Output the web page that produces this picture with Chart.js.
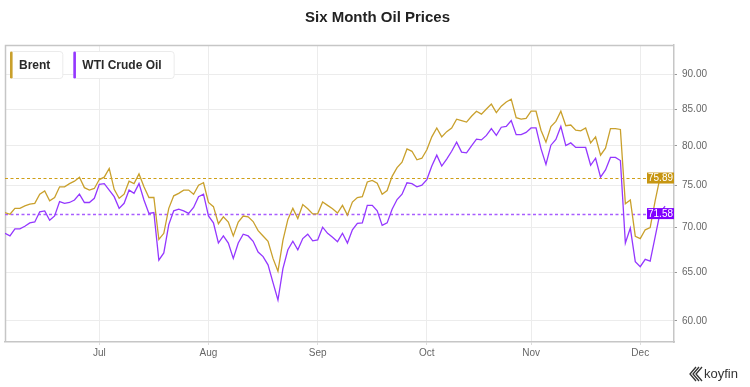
<!DOCTYPE html>
<html><head><meta charset="utf-8">
<script src="https://cdn.jsdelivr.net/npm/chart.js@4.4.0/dist/chart.umd.min.js"></script>
<style>html,body{margin:0;padding:0;background:#fff}canvas{display:block}</style>
</head><body>
<canvas id="c" width="750" height="387"></canvas>
<script>
// ---------------- data ----------------
const chartTitle = 'Six Month Oil Prices';
const seriesNames = ['Brent', 'WTI Crude Oil'];
const startDate = '2021-06-04';            // first weekday shown
const monthLabels = ['Jul', 'Aug', 'Sep', 'Oct', 'Nov', 'Dec'];
const yTickValues = [60, 65, 70, 75, 80, 85, 90];
const lastValueLabels = [75.89, 71.58];   // Brent, WTI

const brent = [71.7,71.5,72.2,72.2,72.5,72.7,72.8,73.9,74.3,73.1,
  73.5,74.8,74.8,75.2,75.5,76.0,74.7,74.4,74.6,75.7,
  76.0,77.1,74.5,73.4,73.9,75.5,75.2,76.4,74.8,73.5,
  73.5,68.6,69.3,72.2,73.7,74.0,74.4,74.4,73.9,75.0,
  75.3,72.9,72.4,70.4,71.2,70.6,69.0,70.6,71.3,71.2,
  70.65,69.6,69.0,68.4,66.5,65.1,68.5,70.9,72.2,71.0,
  72.65,72.15,71.55,71.55,72.95,72.55,72.15,71.65,72.55,71.4,
  72.95,73.5,73.6,75.4,75.6,75.25,73.9,74.35,76.1,77.2,
  77.9,79.6,79.3,78.2,78.4,79.5,81.2,82.4,81.2,81.9,
  82.4,83.6,83.4,83.2,84.0,84.7,84.3,85.0,85.7,84.5,
  85.4,86.0,86.4,83.8,83.6,83.7,84.7,84.7,82.1,80.5,
  82.6,83.3,84.7,82.7,82.8,82.1,82.0,82.4,80.4,81.2,
  78.8,79.7,82.3,82.3,82.2,72.75,73.2,68.95,68.7,69.7,
  69.95,73.1,76.0];

const wti = [69.3,69.0,69.8,69.8,70.1,70.5,70.6,71.8,71.9,70.8,
  71.3,73.0,72.8,72.9,73.2,73.9,72.9,72.9,73.4,75.1,
  75.2,74.4,73.6,72.2,72.8,74.4,74.0,75.2,73.2,71.6,
  71.7,66.3,67.1,70.3,71.9,72.1,71.9,71.6,72.3,73.6,
  73.9,71.3,70.5,68.2,69.0,68.2,66.5,68.2,69.2,69.0,
  68.4,67.2,66.7,65.8,63.9,62.1,65.4,67.45,68.4,67.45,
  68.7,69.2,68.45,68.55,70.0,69.3,68.85,68.35,69.3,68.2,
  69.7,70.45,70.5,72.55,72.55,71.9,70.2,70.5,72.1,73.25,
  73.9,75.3,75.2,74.8,75.0,75.7,77.4,78.8,77.4,78.3,
  79.3,80.5,79.2,79.1,80.0,80.9,80.8,81.4,82.3,81.4,
  82.5,82.6,83.4,81.5,81.5,81.8,82.4,82.4,79.65,77.6,
  80.1,80.85,82.6,80.05,80.4,79.8,79.8,79.8,77.5,78.4,
  76.0,76.9,78.5,78.5,78.1,68.2,69.9,66.15,65.6,66.4,
  66.2,68.9,71.7,72.45];

// ---------------- derived categories ----------------
const monthShort = ['Jan','Feb','Mar','Apr','May','Jun','Jul','Aug','Sep','Oct','Nov','Dec'];
const dates = [];
(function () {
  const d = new Date(startDate + 'T00:00:00Z');
  while (dates.length < wti.length) {
    const wd = d.getUTCDay();
    if (wd !== 0 && wd !== 6) dates.push(new Date(d));
    d.setUTCDate(d.getUTCDate() + 1);
  }
})();
const monthTickIdx = monthLabels.map(m => dates.findIndex(d => monthShort[d.getUTCMonth()] === m));

// ---------------- styles ----------------
const FONT = "'Liberation Sans', Arial, sans-serif";
const colBrent = '#c9a02c', colWti = '#9437ff';
const colBrentTag = '#c79612', colWtiTag = '#8000ff';
const colBrentDot = '#cf9f17', colWtiDot = '#a85eff';
const gridCol = '#ececec', frameCol = '#c6c6c6', tickTextCol = '#666';

const deco = {
  id: 'deco',
  beforeDatasetsDraw(chart) {
    const { ctx, chartArea: a, scales: { y } } = chart;
    ctx.save();
    // left and top frame
    ctx.strokeStyle = frameCol; ctx.lineWidth = 1.5;
    ctx.beginPath();
    ctx.moveTo(a.left + 0.5, a.bottom); ctx.lineTo(a.left + 0.5, a.top + 0.5); ctx.lineTo(a.right, a.top + 0.5);
    ctx.stroke();
    // dotted last-value lines
    const dots = [[colBrentDot, 1, [3, 2.5]], [colWtiDot, 1.6, [3, 2.5]]];
    lastValueLabels.forEach((v, k) => {
      const py = Math.round(y.getPixelForValue(v)) + 0.5;
      ctx.strokeStyle = dots[k][0]; ctx.lineWidth = dots[k][1]; ctx.setLineDash(dots[k][2]);
      ctx.beginPath(); ctx.moveTo(a.left, py); ctx.lineTo(a.right - 27, py); ctx.stroke();
    });
    ctx.restore();
  },
  afterDatasetsDraw(chart) {
    const { ctx, chartArea: a, scales: { y } } = chart;
    ctx.save();
    const tags = [colBrentTag, colWtiTag];
    lastValueLabels.forEach((v, k) => {
      const py = y.getPixelForValue(v);
      ctx.fillStyle = tags[k];
      ctx.fillRect(a.right - 27, py - 5.5, 27, 11);
      ctx.fillStyle = '#fff';
      ctx.font = '10px ' + FONT;
      ctx.textAlign = 'center'; ctx.textBaseline = 'middle';
      ctx.fillText(v.toFixed(2), a.right - 13.5, py + 0.5);
    });
    ctx.restore();
  },
  afterDraw(chart) {
    const { ctx, chartArea: a } = chart;
    ctx.save();
    // legend boxes
    ctx.font = 'bold 12px ' + FONT;
    let x = a.left + 5;
    const cols = [colBrent, colWti];
    seriesNames.forEach((name, k) => {
      const tw = ctx.measureText(name).width;
      const w = 9 + tw + 12, h = 27, top = a.top + 6;
      ctx.fillStyle = '#fff'; ctx.strokeStyle = '#ebebeb'; ctx.lineWidth = 1;
      ctx.beginPath(); ctx.roundRect(x + 0.5, top + 0.5, w, h, 3); ctx.fill(); ctx.stroke();
      ctx.fillStyle = cols[k];
      ctx.beginPath(); ctx.roundRect(x, top + 0.5, 2.6, h, 1.3); ctx.fill();
      ctx.fillStyle = '#2a2a2a'; ctx.textAlign = 'left'; ctx.textBaseline = 'middle';
      ctx.fillText(name, x + 9, top + h / 2 + 1);
      x += w + 11;
    });
    // koyfin logo
    const lx = 690, ly = 374;
    ctx.strokeStyle = '#333'; ctx.lineWidth = 1.3;
    for (let j = 0; j < 3; j++) {
      ctx.beginPath();
      ctx.moveTo(lx + 6 + j * 3, ly - 7); ctx.lineTo(lx + j * 3, ly); ctx.lineTo(lx + 6 + j * 3, ly + 7);
      ctx.stroke();
    }
    ctx.fillStyle = '#333'; ctx.font = '13px ' + FONT; ctx.textAlign = 'left'; ctx.textBaseline = 'middle';
    ctx.fillText('koyfin', 704, ly);
    ctx.restore();
  }
};

new Chart(document.getElementById('c'), {
  type: 'line',
  data: {
    datasets: [
      { label: seriesNames[0], data: brent.map((v, i) => ({ x: i, y: v })), borderColor: colBrent, borderWidth: 1.3, pointRadius: 0, tension: 0, fill: false },
      { label: seriesNames[1], data: wti.map((v, i) => ({ x: i, y: v })), borderColor: colWti, borderWidth: 1.3, pointRadius: 0, tension: 0, fill: false }
    ]
  },
  options: {
    responsive: false,
    devicePixelRatio: 1,
    animation: false,
    layout: { padding: { left: 5, right: 0, top: 0, bottom: 0 } },
    plugins: {
      legend: { display: false },
      tooltip: { enabled: false },
      title: {
        display: true, text: chartTitle, color: '#222',
        font: { family: FONT, size: 15, weight: 'bold', lineHeight: 1.2 },
        padding: { top: 9, bottom: 18 }
      }
    },
    scales: {
      x: {
        type: 'linear', min: 0, max: wti.length + 0.8,
        afterBuildTicks: s => { s.ticks = monthTickIdx.map(v => ({ value: v })); },
        afterFit: s => { s.height = 45; },
        grid: { color: gridCol, lineWidth: 1, tickLength: 3, tickColor: '#dcdcdc' },
        border: { display: true, color: frameCol, width: 1.5 },
        ticks: {
          autoSkip: false, maxRotation: 0, padding: 2, color: tickTextCol,
          font: { family: FONT, size: 10 },
          callback: (v, i) => monthLabels[i]
        }
      },
      y: {
        type: 'logarithmic', position: 'right', min: 57.96, max: 94.44,
        afterBuildTicks: s => { s.ticks = yTickValues.map(v => ({ value: v })); },
        afterFit: s => { s.width = 76; },
        grid: { color: gridCol, lineWidth: 1, tickLength: 3, tickColor: '#999' },
        border: { display: true, color: frameCol, width: 1.5 },
        ticks: {
          autoSkip: false, padding: 5, color: tickTextCol,
          font: { family: FONT, size: 10 },
          callback: v => Number(v).toFixed(2)
        }
      }
    }
  },
  plugins: [deco]
});
</script>
</body></html>
